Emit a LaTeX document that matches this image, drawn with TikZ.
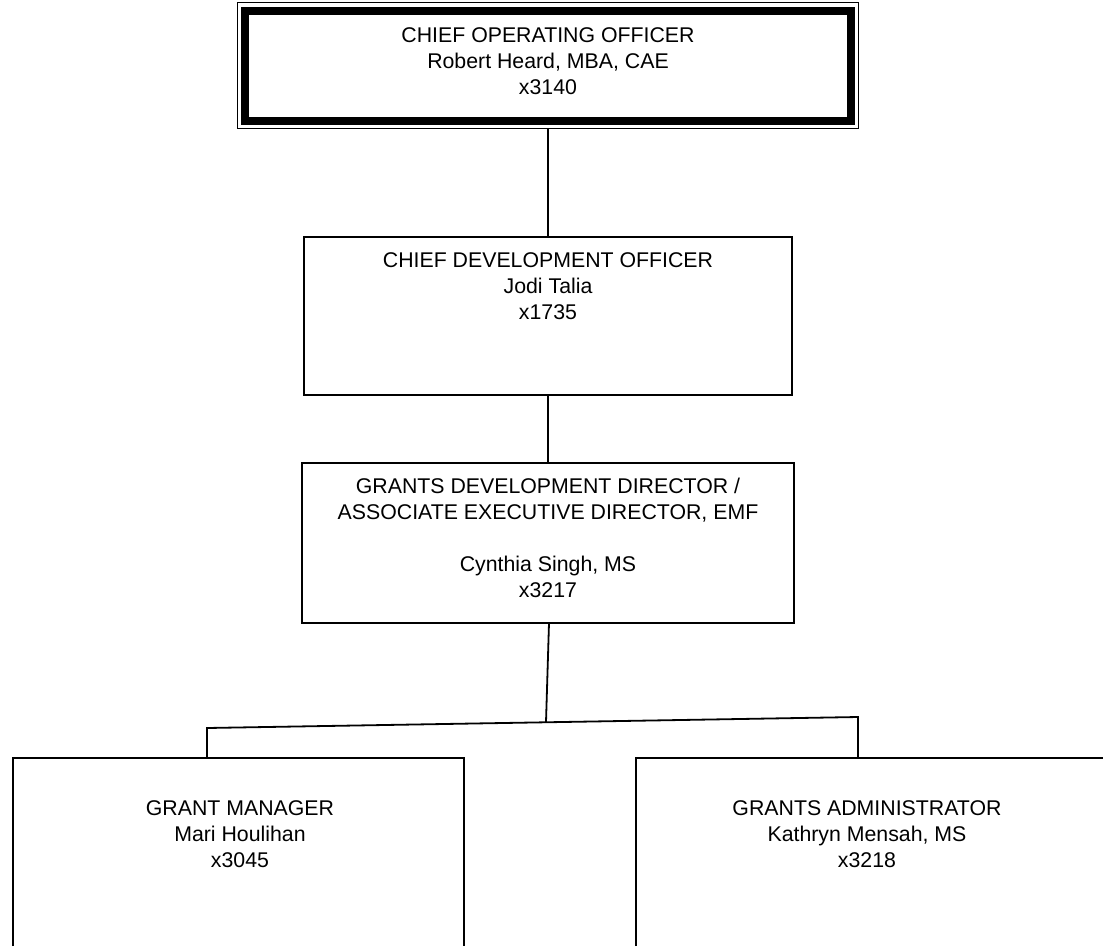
\documentclass[tikz,border=0pt]{standalone}
\usepackage{fontspec}
\setmainfont{Liberation Sans}
\begin{document}
\begin{tikzpicture}[x=1pt,y=-1pt,
  boxline/.style={draw=black,line width=2pt},
  conn/.style={draw=black,line width=1.2pt},
  conntwo/.style={draw=black,line width=1.8pt},
  lbl/.style={align=center,font=\fontsize{21.3}{26}\selectfont,inner sep=0pt,anchor=north}]
\useasboundingbox[fill=white] (0,0) rectangle (1103,946);
% top box
\draw[line width=1.3pt] (237.5,2.7) rectangle (858.5,128.5);
\draw[line width=8pt] (245,11) rectangle (851,120.5);
\node[draw=none,minimum width=621pt,minimum height=126pt,inner sep=0pt] (coo) at (548,65.6) {};
\node[lbl] (cootxt) at (548,27) {CHIEF OPERATING OFFICER\\Robert Heard, MBA, CAE\\x3140};
% CDO box
\node[boxline,minimum width=488pt,minimum height=158pt,inner sep=0pt] (cdo) at (548,316) {};
\node[lbl] (cdotxt) at (548,252) {CHIEF DEVELOPMENT OFFICER\\Jodi Talia\\x1735};
% GDD box
\node[boxline,minimum width=492pt,minimum height=160pt,inner sep=0pt] (gdd) at (548,543) {};
\node[lbl] (gddtxt) at (548,478) {GRANTS DEVELOPMENT DIRECTOR /\\ASSOCIATE EXECUTIVE DIRECTOR, EMF\\[26pt]Cynthia Singh, MS\\x3217};
% bottom boxes (cut off at the bottom of the picture)
\coordinate (gmtl) at (12.5,757.5);
\coordinate (gmtr) at (464,757.5);
\coordinate (gatl) at (636,757.5);
\draw[boxline] (12.5,946) -- (gmtl) -- (gmtr) -- (464,946);
\draw[boxline] (636,946) -- (gatl) -- (1103,757.5);
\node[lbl] (gmtxt) at (240,800) {GRANT MANAGER\\Mari Houlihan\\x3045};
\node[lbl] (gatxt) at (867,800) {GRANTS ADMINISTRATOR\\Kathryn Mensah, MS\\x3218};
% connectors
\draw[conn] (coo.south) -- (cdo.north);
\draw[conn] (cdo.south) -- (gdd.north);
\coordinate (mid) at (546,722);
\coordinate (busl) at (207,728);
\coordinate (busr) at (858,717);
\coordinate (gmtop) at (207,757.5);
\coordinate (gatop) at (858,757.5);
\draw[conntwo] (549,623) -- (mid);
\draw[conntwo] (gmtop) -- (busl) -- (busr) -- (gatop);
\end{tikzpicture}
\end{document}
